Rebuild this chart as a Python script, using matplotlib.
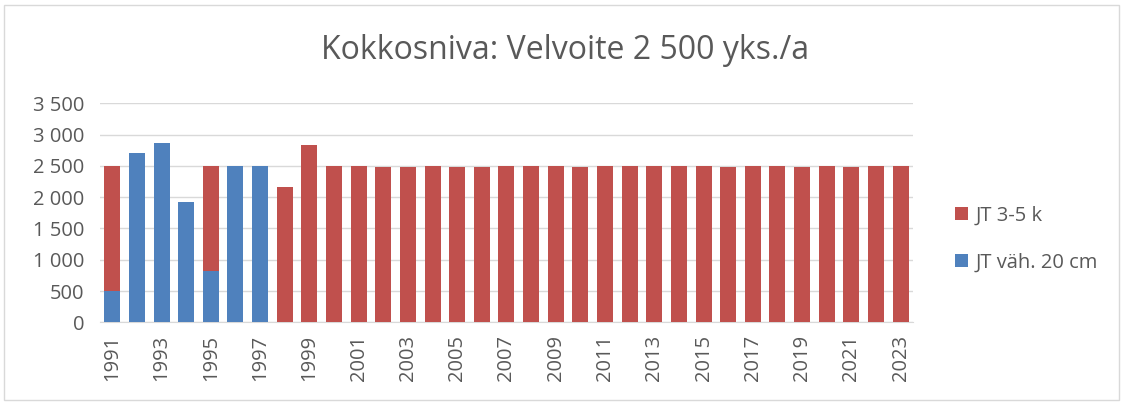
import matplotlib
matplotlib.use("Agg")
import matplotlib.pyplot as plt
from matplotlib.patches import Rectangle, Patch
import numpy as np

years = list(range(1991, 2024))
jt_vah_20cm = [500, 2700, 2870, 1920, 820, 2500, 2500] + [0] * 26
jt_3_5k = [2000, 0, 0, 0, 1680, 0, 0,
           2160, 2830, 2500, 2500, 2490, 2490, 2500, 2490, 2490, 2500,
           2500, 2500, 2490, 2500, 2500, 2500, 2500, 2500, 2490, 2500,
           2500, 2490, 2500, 2490, 2500, 2500]
yticks = [0, 500, 1000, 1500, 2000, 2500, 3000, 3500]
title = "Kokkosniva: Velvoite 2 500 yks./a"
labels = ["JT 3-5 k", "JT väh. 20 cm"]

RED = "#C0504D"
BLUE = "#4F81BD"
TXT = "#595959"

plt.rcParams['font.family'] = ['Open Sans', 'DejaVu Sans']

fig = plt.figure(figsize=(11.23, 4.05), dpi=100)
ax = fig.add_axes([0.089, 0.204, 0.724, 0.541])

x = np.arange(len(years))
ax.bar(x, jt_vah_20cm, width=0.65, color=BLUE, zorder=3)
ax.bar(x, jt_3_5k, width=0.65, bottom=jt_vah_20cm, color=RED, zorder=3)

ax.set_xlim(-0.5, len(years) - 0.5)
ax.set_ylim(0, 3500)
ax.set_yticks(yticks)
ax.set_yticklabels([f"{v:,}".replace(",", " ") for v in yticks], color=TXT, fontsize=14.5)
ax.set_xticks(x[::2])
ax.set_xticklabels([str(y) for y in years[::2]], rotation=90, color=TXT, fontsize=14.5)
ax.tick_params(axis='y', length=0, pad=11)
ax.tick_params(axis='x', length=0, pad=9)
ax.grid(axis='y', color='#d9d9d9', linewidth=1, zorder=0)
for s in ['top', 'right', 'left']:
    ax.spines[s].set_visible(False)
ax.spines['bottom'].set_color('#d9d9d9')

fig.text(0.503, 0.875, title, ha='center', va='center', fontsize=23, color=TXT)

handles = [Patch(facecolor=RED), Patch(facecolor=BLUE)]
fig.legend(handles, labels, loc='center left', bbox_to_anchor=(0.834, 0.41),
           frameon=False, fontsize=14.5, labelcolor=TXT, labelspacing=1.35,
           handlelength=0.65, handleheight=0.65, handletextpad=0.4)

fig.patches.append(Rectangle((0.004, 0.012), 0.992, 0.976, transform=fig.transFigure,
                             fill=False, edgecolor='#d9d9d9', linewidth=1))

fig.savefig("out.png", dpi=100)
